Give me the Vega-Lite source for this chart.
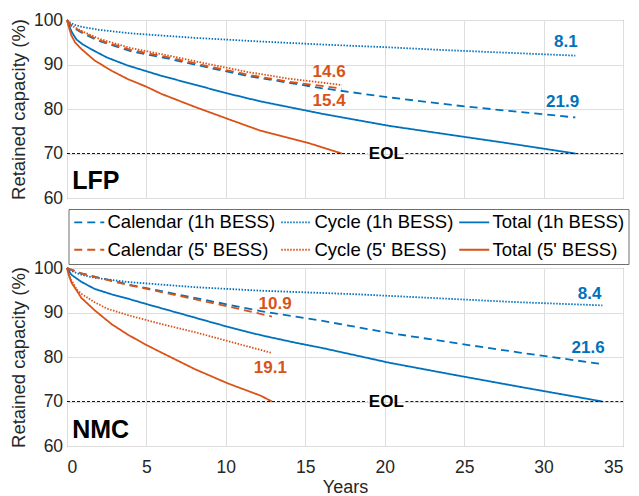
{
  "$schema": "https://vega.github.io/schema/vega-lite/v6.json",
  "padding": {"left": 9, "top": 10, "right": 2, "bottom": 0},
  "background": "white",
  "config": {
    "font": "Liberation Sans",
    "view": {"stroke": "#6e6e6e", "strokeWidth": 1},
    "axis": {
      "labelFont": "Liberation Sans", "labelFontSize": 17.5, "labelColor": "#262626",
      "titleFont": "Liberation Sans", "titleFontSize": 18.5, "titleColor": "#262626", "titleFontWeight": "normal",
      "gridColor": "#dedede", "gridWidth": 1, "domain": false, "ticks": false, "tickSize": 0
    },
    "axisY": {"labelPadding": 4.4, "titlePadding": 4.6},
    "axisX": {"labelPadding": 12.5, "titlePadding": 2, "titleFontSize": 18},
    "legend": {
      "orient": "none", "legendX": 1.5, "legendY": 189, "columns": 3, "direction": "horizontal",
      "strokeColor": "#6e6e6e", "fillColor": "#ffffff", "padding": 4,
      "labelFont": "Liberation Sans", "labelFontSize": 18.5, "labelColor": "#000000", "labelLimit": 400,
      "symbolSize": 225, "symbolStrokeWidth": 1.8,
      "columnPadding": 2, "rowPadding": 8.5, "labelOffset": 16.5
    }
  },
  "datasets": {
    "rows": [
      {"panel":"LFP","kind":"curve","series":"Cycle (1h BESS)","year":0,"capacity":100},
      {"panel":"LFP","kind":"curve","series":"Cycle (1h BESS)","year":0.2,"capacity":99.4},
      {"panel":"LFP","kind":"curve","series":"Cycle (1h BESS)","year":0.5,"capacity":98.9},
      {"panel":"LFP","kind":"curve","series":"Cycle (1h BESS)","year":1,"capacity":98.4},
      {"panel":"LFP","kind":"curve","series":"Cycle (1h BESS)","year":2,"capacity":97.8},
      {"panel":"LFP","kind":"curve","series":"Cycle (1h BESS)","year":4,"capacity":97.0},
      {"panel":"LFP","kind":"curve","series":"Cycle (1h BESS)","year":6,"capacity":96.5},
      {"panel":"LFP","kind":"curve","series":"Cycle (1h BESS)","year":8,"capacity":96.0},
      {"panel":"LFP","kind":"curve","series":"Cycle (1h BESS)","year":12,"capacity":95.2},
      {"panel":"LFP","kind":"curve","series":"Cycle (1h BESS)","year":16,"capacity":94.5},
      {"panel":"LFP","kind":"curve","series":"Cycle (1h BESS)","year":20,"capacity":93.9},
      {"panel":"LFP","kind":"curve","series":"Cycle (1h BESS)","year":24,"capacity":93.2},
      {"panel":"LFP","kind":"curve","series":"Cycle (1h BESS)","year":28,"capacity":92.6},
      {"panel":"LFP","kind":"curve","series":"Cycle (1h BESS)","year":32,"capacity":92.0},

      {"panel":"LFP","kind":"curve","series":"Calendar (1h BESS)","year":0,"capacity":100},
      {"panel":"LFP","kind":"curve","series":"Calendar (1h BESS)","year":0.3,"capacity":98.5},
      {"panel":"LFP","kind":"curve","series":"Calendar (1h BESS)","year":1,"capacity":97.0},
      {"panel":"LFP","kind":"curve","series":"Calendar (1h BESS)","year":2,"capacity":95.3},
      {"panel":"LFP","kind":"curve","series":"Calendar (1h BESS)","year":4,"capacity":93.0},
      {"panel":"LFP","kind":"curve","series":"Calendar (1h BESS)","year":6.4,"capacity":91.3},
      {"panel":"LFP","kind":"curve","series":"Calendar (1h BESS)","year":8.9,"capacity":89.3},
      {"panel":"LFP","kind":"curve","series":"Calendar (1h BESS)","year":11.4,"capacity":87.4},
      {"panel":"LFP","kind":"curve","series":"Calendar (1h BESS)","year":16,"capacity":84.7},
      {"panel":"LFP","kind":"curve","series":"Calendar (1h BESS)","year":20.3,"capacity":82.6},
      {"panel":"LFP","kind":"curve","series":"Calendar (1h BESS)","year":24.5,"capacity":80.8},
      {"panel":"LFP","kind":"curve","series":"Calendar (1h BESS)","year":28,"capacity":79.5},
      {"panel":"LFP","kind":"curve","series":"Calendar (1h BESS)","year":32,"capacity":78.1},

      {"panel":"LFP","kind":"curve","series":"Total (1h BESS)","year":0,"capacity":100},
      {"panel":"LFP","kind":"curve","series":"Total (1h BESS)","year":0.1,"capacity":99},
      {"panel":"LFP","kind":"curve","series":"Total (1h BESS)","year":0.3,"capacity":97.3},
      {"panel":"LFP","kind":"curve","series":"Total (1h BESS)","year":0.6,"capacity":95.6},
      {"panel":"LFP","kind":"curve","series":"Total (1h BESS)","year":1,"capacity":94.5},
      {"panel":"LFP","kind":"curve","series":"Total (1h BESS)","year":1.7,"capacity":93.1},
      {"panel":"LFP","kind":"curve","series":"Total (1h BESS)","year":2.5,"capacity":91.6},
      {"panel":"LFP","kind":"curve","series":"Total (1h BESS)","year":3.8,"capacity":89.8},
      {"panel":"LFP","kind":"curve","series":"Total (1h BESS)","year":5.9,"capacity":87.5},
      {"panel":"LFP","kind":"curve","series":"Total (1h BESS)","year":8,"capacity":85.5},
      {"panel":"LFP","kind":"curve","series":"Total (1h BESS)","year":10.1,"capacity":83.5},
      {"panel":"LFP","kind":"curve","series":"Total (1h BESS)","year":12.2,"capacity":81.7},
      {"panel":"LFP","kind":"curve","series":"Total (1h BESS)","year":16.1,"capacity":78.9},
      {"panel":"LFP","kind":"curve","series":"Total (1h BESS)","year":20.3,"capacity":76.2},
      {"panel":"LFP","kind":"curve","series":"Total (1h BESS)","year":24.5,"capacity":74.0},
      {"panel":"LFP","kind":"curve","series":"Total (1h BESS)","year":27.4,"capacity":72.5},
      {"panel":"LFP","kind":"curve","series":"Total (1h BESS)","year":32,"capacity":70},

      {"panel":"LFP","kind":"curve","series":"Calendar (5' BESS)","year":0,"capacity":100},
      {"panel":"LFP","kind":"curve","series":"Calendar (5' BESS)","year":0.3,"capacity":98.6},
      {"panel":"LFP","kind":"curve","series":"Calendar (5' BESS)","year":1,"capacity":97.2},
      {"panel":"LFP","kind":"curve","series":"Calendar (5' BESS)","year":2,"capacity":95.5},
      {"panel":"LFP","kind":"curve","series":"Calendar (5' BESS)","year":4,"capacity":93.3},
      {"panel":"LFP","kind":"curve","series":"Calendar (5' BESS)","year":6.4,"capacity":91.6},
      {"panel":"LFP","kind":"curve","series":"Calendar (5' BESS)","year":8.9,"capacity":89.6},
      {"panel":"LFP","kind":"curve","series":"Calendar (5' BESS)","year":11.4,"capacity":87.7},
      {"panel":"LFP","kind":"curve","series":"Calendar (5' BESS)","year":14,"capacity":86.1},
      {"panel":"LFP","kind":"curve","series":"Calendar (5' BESS)","year":17.3,"capacity":84.6},

      {"panel":"LFP","kind":"curve","series":"Cycle (5' BESS)","year":0,"capacity":100},
      {"panel":"LFP","kind":"curve","series":"Cycle (5' BESS)","year":0.3,"capacity":98.7},
      {"panel":"LFP","kind":"curve","series":"Cycle (5' BESS)","year":1,"capacity":97.4},
      {"panel":"LFP","kind":"curve","series":"Cycle (5' BESS)","year":2,"capacity":95.8},
      {"panel":"LFP","kind":"curve","series":"Cycle (5' BESS)","year":4,"capacity":93.7},
      {"panel":"LFP","kind":"curve","series":"Cycle (5' BESS)","year":6.4,"capacity":92.0},
      {"panel":"LFP","kind":"curve","series":"Cycle (5' BESS)","year":8.9,"capacity":90.1},
      {"panel":"LFP","kind":"curve","series":"Cycle (5' BESS)","year":11.4,"capacity":88.3},
      {"panel":"LFP","kind":"curve","series":"Cycle (5' BESS)","year":14,"capacity":86.8},
      {"panel":"LFP","kind":"curve","series":"Cycle (5' BESS)","year":17.3,"capacity":85.4},

      {"panel":"LFP","kind":"curve","series":"Total (5' BESS)","year":0,"capacity":100},
      {"panel":"LFP","kind":"curve","series":"Total (5' BESS)","year":0.1,"capacity":98.6},
      {"panel":"LFP","kind":"curve","series":"Total (5' BESS)","year":0.27,"capacity":96.6},
      {"panel":"LFP","kind":"curve","series":"Total (5' BESS)","year":0.5,"capacity":95},
      {"panel":"LFP","kind":"curve","series":"Total (5' BESS)","year":0.9,"capacity":93.5},
      {"panel":"LFP","kind":"curve","series":"Total (5' BESS)","year":1.74,"capacity":90.9},
      {"panel":"LFP","kind":"curve","series":"Total (5' BESS)","year":2.8,"capacity":88.6},
      {"panel":"LFP","kind":"curve","series":"Total (5' BESS)","year":3.84,"capacity":86.7},
      {"panel":"LFP","kind":"curve","series":"Total (5' BESS)","year":5,"capacity":85.0},
      {"panel":"LFP","kind":"curve","series":"Total (5' BESS)","year":5.94,"capacity":83.4},
      {"panel":"LFP","kind":"curve","series":"Total (5' BESS)","year":8.03,"capacity":80.5},
      {"panel":"LFP","kind":"curve","series":"Total (5' BESS)","year":10.1,"capacity":77.8},
      {"panel":"LFP","kind":"curve","series":"Total (5' BESS)","year":12.2,"capacity":75.1},
      {"panel":"LFP","kind":"curve","series":"Total (5' BESS)","year":15.07,"capacity":72.5},
      {"panel":"LFP","kind":"curve","series":"Total (5' BESS)","year":17.3,"capacity":70},

      {"panel":"NMC","kind":"curve","series":"Cycle (1h BESS)","year":0,"capacity":100},
      {"panel":"NMC","kind":"curve","series":"Cycle (1h BESS)","year":0.3,"capacity":99.3},
      {"panel":"NMC","kind":"curve","series":"Cycle (1h BESS)","year":0.9,"capacity":98.5},
      {"panel":"NMC","kind":"curve","series":"Cycle (1h BESS)","year":1.74,"capacity":97.8},
      {"panel":"NMC","kind":"curve","series":"Cycle (1h BESS)","year":3.84,"capacity":96.85},
      {"panel":"NMC","kind":"curve","series":"Cycle (1h BESS)","year":8.03,"capacity":95.7},
      {"panel":"NMC","kind":"curve","series":"Cycle (1h BESS)","year":12.2,"capacity":94.9},
      {"panel":"NMC","kind":"curve","series":"Cycle (1h BESS)","year":18.2,"capacity":94.1},
      {"panel":"NMC","kind":"curve","series":"Cycle (1h BESS)","year":24.5,"capacity":93.0},
      {"panel":"NMC","kind":"curve","series":"Cycle (1h BESS)","year":28.5,"capacity":92.3},
      {"panel":"NMC","kind":"curve","series":"Cycle (1h BESS)","year":33.7,"capacity":91.6},

      {"panel":"NMC","kind":"curve","series":"Calendar (1h BESS)","year":0,"capacity":100},
      {"panel":"NMC","kind":"curve","series":"Calendar (1h BESS)","year":0.9,"capacity":98.8},
      {"panel":"NMC","kind":"curve","series":"Calendar (1h BESS)","year":1.74,"capacity":98.05},
      {"panel":"NMC","kind":"curve","series":"Calendar (1h BESS)","year":3.84,"capacity":96.3},
      {"panel":"NMC","kind":"curve","series":"Calendar (1h BESS)","year":5.94,"capacity":94.8},
      {"panel":"NMC","kind":"curve","series":"Calendar (1h BESS)","year":8.03,"capacity":93.3},
      {"panel":"NMC","kind":"curve","series":"Calendar (1h BESS)","year":10.1,"capacity":91.8},
      {"panel":"NMC","kind":"curve","series":"Calendar (1h BESS)","year":12.2,"capacity":90.3},
      {"panel":"NMC","kind":"curve","series":"Calendar (1h BESS)","year":16.1,"capacity":88.1},
      {"panel":"NMC","kind":"curve","series":"Calendar (1h BESS)","year":20.3,"capacity":85.4},
      {"panel":"NMC","kind":"curve","series":"Calendar (1h BESS)","year":24.5,"capacity":83.1},
      {"panel":"NMC","kind":"curve","series":"Calendar (1h BESS)","year":28.5,"capacity":81.0},
      {"panel":"NMC","kind":"curve","series":"Calendar (1h BESS)","year":33.7,"capacity":78.4},

      {"panel":"NMC","kind":"curve","series":"Total (1h BESS)","year":0,"capacity":100},
      {"panel":"NMC","kind":"curve","series":"Total (1h BESS)","year":0.27,"capacity":98.5},
      {"panel":"NMC","kind":"curve","series":"Total (1h BESS)","year":0.9,"capacity":96.9},
      {"panel":"NMC","kind":"curve","series":"Total (1h BESS)","year":1.74,"capacity":95.3},
      {"panel":"NMC","kind":"curve","series":"Total (1h BESS)","year":2.8,"capacity":94.1},
      {"panel":"NMC","kind":"curve","series":"Total (1h BESS)","year":3.84,"capacity":93.1},
      {"panel":"NMC","kind":"curve","series":"Total (1h BESS)","year":5,"capacity":91.9},
      {"panel":"NMC","kind":"curve","series":"Total (1h BESS)","year":6,"capacity":90.9},
      {"panel":"NMC","kind":"curve","series":"Total (1h BESS)","year":8.1,"capacity":88.8},
      {"panel":"NMC","kind":"curve","series":"Total (1h BESS)","year":10.1,"capacity":86.8},
      {"panel":"NMC","kind":"curve","series":"Total (1h BESS)","year":12.2,"capacity":84.9},
      {"panel":"NMC","kind":"curve","series":"Total (1h BESS)","year":14.4,"capacity":83.2},
      {"panel":"NMC","kind":"curve","series":"Total (1h BESS)","year":16.1,"capacity":82.0},
      {"panel":"NMC","kind":"curve","series":"Total (1h BESS)","year":20.3,"capacity":78.7},
      {"panel":"NMC","kind":"curve","series":"Total (1h BESS)","year":24.5,"capacity":75.9},
      {"panel":"NMC","kind":"curve","series":"Total (1h BESS)","year":28.5,"capacity":73.3},
      {"panel":"NMC","kind":"curve","series":"Total (1h BESS)","year":33.7,"capacity":70},

      {"panel":"NMC","kind":"curve","series":"Calendar (5' BESS)","year":0,"capacity":100},
      {"panel":"NMC","kind":"curve","series":"Calendar (5' BESS)","year":0.9,"capacity":98.8},
      {"panel":"NMC","kind":"curve","series":"Calendar (5' BESS)","year":1.74,"capacity":98.0},
      {"panel":"NMC","kind":"curve","series":"Calendar (5' BESS)","year":3.84,"capacity":96.2},
      {"panel":"NMC","kind":"curve","series":"Calendar (5' BESS)","year":5.94,"capacity":94.6},
      {"panel":"NMC","kind":"curve","series":"Calendar (5' BESS)","year":8.03,"capacity":93.0},
      {"panel":"NMC","kind":"curve","series":"Calendar (5' BESS)","year":10.1,"capacity":91.4},
      {"panel":"NMC","kind":"curve","series":"Calendar (5' BESS)","year":12.9,"capacity":89.1},

      {"panel":"NMC","kind":"curve","series":"Cycle (5' BESS)","year":0,"capacity":100},
      {"panel":"NMC","kind":"curve","series":"Cycle (5' BESS)","year":0.1,"capacity":98.6},
      {"panel":"NMC","kind":"curve","series":"Cycle (5' BESS)","year":0.27,"capacity":97.3},
      {"panel":"NMC","kind":"curve","series":"Cycle (5' BESS)","year":0.6,"capacity":95.2},
      {"panel":"NMC","kind":"curve","series":"Cycle (5' BESS)","year":0.9,"capacity":94.2},
      {"panel":"NMC","kind":"curve","series":"Cycle (5' BESS)","year":1.74,"capacity":92.3},
      {"panel":"NMC","kind":"curve","series":"Cycle (5' BESS)","year":2.5,"capacity":90.9},
      {"panel":"NMC","kind":"curve","series":"Cycle (5' BESS)","year":3.84,"capacity":89.4},
      {"panel":"NMC","kind":"curve","series":"Cycle (5' BESS)","year":5,"capacity":88.3},
      {"panel":"NMC","kind":"curve","series":"Cycle (5' BESS)","year":5.94,"capacity":87.4},
      {"panel":"NMC","kind":"curve","series":"Cycle (5' BESS)","year":8.03,"capacity":85.6},
      {"panel":"NMC","kind":"curve","series":"Cycle (5' BESS)","year":10.1,"capacity":83.6},
      {"panel":"NMC","kind":"curve","series":"Cycle (5' BESS)","year":12.9,"capacity":80.9},

      {"panel":"NMC","kind":"curve","series":"Total (5' BESS)","year":0,"capacity":100},
      {"panel":"NMC","kind":"curve","series":"Total (5' BESS)","year":0.15,"capacity":98},
      {"panel":"NMC","kind":"curve","series":"Total (5' BESS)","year":0.3,"capacity":96.6},
      {"panel":"NMC","kind":"curve","series":"Total (5' BESS)","year":0.6,"capacity":95},
      {"panel":"NMC","kind":"curve","series":"Total (5' BESS)","year":0.9,"capacity":93.3},
      {"panel":"NMC","kind":"curve","series":"Total (5' BESS)","year":1.74,"capacity":90.5},
      {"panel":"NMC","kind":"curve","series":"Total (5' BESS)","year":2.8,"capacity":87.4},
      {"panel":"NMC","kind":"curve","series":"Total (5' BESS)","year":3.84,"capacity":85.0},
      {"panel":"NMC","kind":"curve","series":"Total (5' BESS)","year":5,"capacity":82.7},
      {"panel":"NMC","kind":"curve","series":"Total (5' BESS)","year":5.94,"capacity":81.0},
      {"panel":"NMC","kind":"curve","series":"Total (5' BESS)","year":8.03,"capacity":77.3},
      {"panel":"NMC","kind":"curve","series":"Total (5' BESS)","year":10.1,"capacity":74.1},
      {"panel":"NMC","kind":"curve","series":"Total (5' BESS)","year":12.2,"capacity":71.3},
      {"panel":"NMC","kind":"curve","series":"Total (5' BESS)","year":12.9,"capacity":70},

      {"panel":"LFP","kind":"eol","year":0,"yearEnd":18.9,"capacity":70},
      {"panel":"LFP","kind":"eol","year":21.3,"yearEnd":35,"capacity":70},
      {"panel":"NMC","kind":"eol","year":0,"yearEnd":18.9,"capacity":70},
      {"panel":"NMC","kind":"eol","year":21.3,"yearEnd":35,"capacity":70},

      {"panel":"LFP","kind":"blue","label":"8.1","year":31.4,"capacity":95.0},
      {"panel":"LFP","kind":"blue","label":"21.9","year":31.2,"capacity":81.5},
      {"panel":"LFP","kind":"orange","label":"14.6","year":16.5,"capacity":88.4},
      {"panel":"LFP","kind":"orange","label":"15.4","year":16.5,"capacity":81.9},
      {"panel":"LFP","kind":"black","label":"EOL","year":20.1,"capacity":70},
      {"panel":"LFP","kind":"name","label":"LFP","year":0.33,"capacity":63.8},

      {"panel":"NMC","kind":"blue","label":"8.4","year":32.9,"capacity":94.1},
      {"panel":"NMC","kind":"blue","label":"21.6","year":32.8,"capacity":82.05},
      {"panel":"NMC","kind":"orange","label":"10.9","year":13.1,"capacity":91.8},
      {"panel":"NMC","kind":"orange","label":"19.1","year":12.8,"capacity":77.5},
      {"panel":"NMC","kind":"black","label":"EOL","year":20.1,"capacity":70},
      {"panel":"NMC","kind":"name","label":"NMC","year":0.33,"capacity":63.7}
    ]
  },
  "spacing": 70,
  "bounds": "flush",
  "resolve": {
    "scale": {"color": "shared", "strokeDash": "shared"},
    "legend": {"color": "shared", "strokeDash": "shared"}
  },
  "vconcat": [
    {
      "width": 556, "height": 178,
      "data": {"name": "rows"},
      "transform": [{"filter": "datum.panel === 'LFP'"}],
      "encoding": {
        "x": {"field": "year", "type": "quantitative", "scale": {"domain": [0, 35], "nice": false},
              "axis": {"values": [0,5,10,15,20,25,30,35], "labels": false, "title": null}},
        "y": {"field": "capacity", "type": "quantitative", "scale": {"domain": [60, 100], "nice": false},
              "axis": {"values": [60,70,80,90,100], "title": "Retained capacity (%)"}}
      },
      "layer": [
        {
          "transform": [{"filter": "datum.kind === 'curve'"}],
          "mark": {"type": "line", "strokeWidth": 1.8},
          "encoding": {
            "color": {"field": "series", "type": "nominal", "title": null,
              "legend": {"symbolType": "M-1,0H3"},
              "scale": {"domain": ["Calendar (1h BESS)", "Cycle (1h BESS)", "Total (1h BESS)", "Calendar (5' BESS)", "Cycle (5' BESS)", "Total (5' BESS)"],
                        "range": ["#0072BD", "#0072BD", "#0072BD", "#D95319", "#D95319", "#D95319"]}},
            "strokeDash": {"field": "series", "type": "nominal", "title": null,
              "legend": {"symbolType": "M-1,0H3"},
              "scale": {"domain": ["Calendar (1h BESS)", "Cycle (1h BESS)", "Total (1h BESS)", "Calendar (5' BESS)", "Cycle (5' BESS)", "Total (5' BESS)"],
                        "range": [[8, 5], [1.5, 1.5], [1, 0], [8, 5], [1.5, 1.5], [1, 0]]}}
          }
        },
        {
          "transform": [{"filter": "datum.kind === 'eol'"}],
          "mark": {"type": "rule", "color": "#000000", "strokeWidth": 0.9, "strokeDash": [3, 2]},
          "encoding": {"x2": {"field": "yearEnd"}}
        },
        {
          "transform": [{"filter": "datum.kind === 'blue'"}],
          "mark": {"type": "text", "fontSize": 17, "fontWeight": "bold", "color": "#0072BD"},
          "encoding": {"text": {"field": "label"}}
        },
        {
          "transform": [{"filter": "datum.kind === 'orange'"}],
          "mark": {"type": "text", "fontSize": 17, "fontWeight": "bold", "color": "#D95319"},
          "encoding": {"text": {"field": "label"}}
        },
        {
          "transform": [{"filter": "datum.kind === 'black'"}],
          "mark": {"type": "text", "fontSize": 17, "fontWeight": "bold", "color": "#000000"},
          "encoding": {"text": {"field": "label"}}
        },
        {
          "transform": [{"filter": "datum.kind === 'name'"}],
          "mark": {"type": "text", "fontSize": 25, "fontWeight": "bold", "color": "#000000", "align": "left"},
          "encoding": {"text": {"field": "label"}}
        }
      ]
    },
    {
      "width": 556, "height": 178,
      "data": {"name": "rows"},
      "transform": [{"filter": "datum.panel === 'NMC'"}],
      "encoding": {
        "x": {"field": "year", "type": "quantitative", "scale": {"domain": [0, 35], "nice": false},
              "axis": {"values": [0,5,10,15,20,25,30,35], "title": "Years"}},
        "y": {"field": "capacity", "type": "quantitative", "scale": {"domain": [60, 100], "nice": false},
              "axis": {"values": [60,70,80,90,100], "title": "Retained capacity (%)"}}
      },
      "layer": [
        {
          "transform": [{"filter": "datum.kind === 'curve'"}],
          "mark": {"type": "line", "strokeWidth": 1.8},
          "encoding": {
            "color": {"field": "series", "type": "nominal", "title": null,
              "legend": {"symbolType": "M-1,0H3"},
              "scale": {"domain": ["Calendar (1h BESS)", "Cycle (1h BESS)", "Total (1h BESS)", "Calendar (5' BESS)", "Cycle (5' BESS)", "Total (5' BESS)"],
                        "range": ["#0072BD", "#0072BD", "#0072BD", "#D95319", "#D95319", "#D95319"]}},
            "strokeDash": {"field": "series", "type": "nominal", "title": null,
              "legend": {"symbolType": "M-1,0H3"},
              "scale": {"domain": ["Calendar (1h BESS)", "Cycle (1h BESS)", "Total (1h BESS)", "Calendar (5' BESS)", "Cycle (5' BESS)", "Total (5' BESS)"],
                        "range": [[8, 5], [1.5, 1.5], [1, 0], [8, 5], [1.5, 1.5], [1, 0]]}}
          }
        },
        {
          "transform": [{"filter": "datum.kind === 'eol'"}],
          "mark": {"type": "rule", "color": "#000000", "strokeWidth": 0.9, "strokeDash": [3, 2]},
          "encoding": {"x2": {"field": "yearEnd"}}
        },
        {
          "transform": [{"filter": "datum.kind === 'blue'"}],
          "mark": {"type": "text", "fontSize": 17, "fontWeight": "bold", "color": "#0072BD"},
          "encoding": {"text": {"field": "label"}}
        },
        {
          "transform": [{"filter": "datum.kind === 'orange'"}],
          "mark": {"type": "text", "fontSize": 17, "fontWeight": "bold", "color": "#D95319"},
          "encoding": {"text": {"field": "label"}}
        },
        {
          "transform": [{"filter": "datum.kind === 'black'"}],
          "mark": {"type": "text", "fontSize": 17, "fontWeight": "bold", "color": "#000000"},
          "encoding": {"text": {"field": "label"}}
        },
        {
          "transform": [{"filter": "datum.kind === 'name'"}],
          "mark": {"type": "text", "fontSize": 25, "fontWeight": "bold", "color": "#000000", "align": "left"},
          "encoding": {"text": {"field": "label"}}
        }
      ]
    }
  ]
}
